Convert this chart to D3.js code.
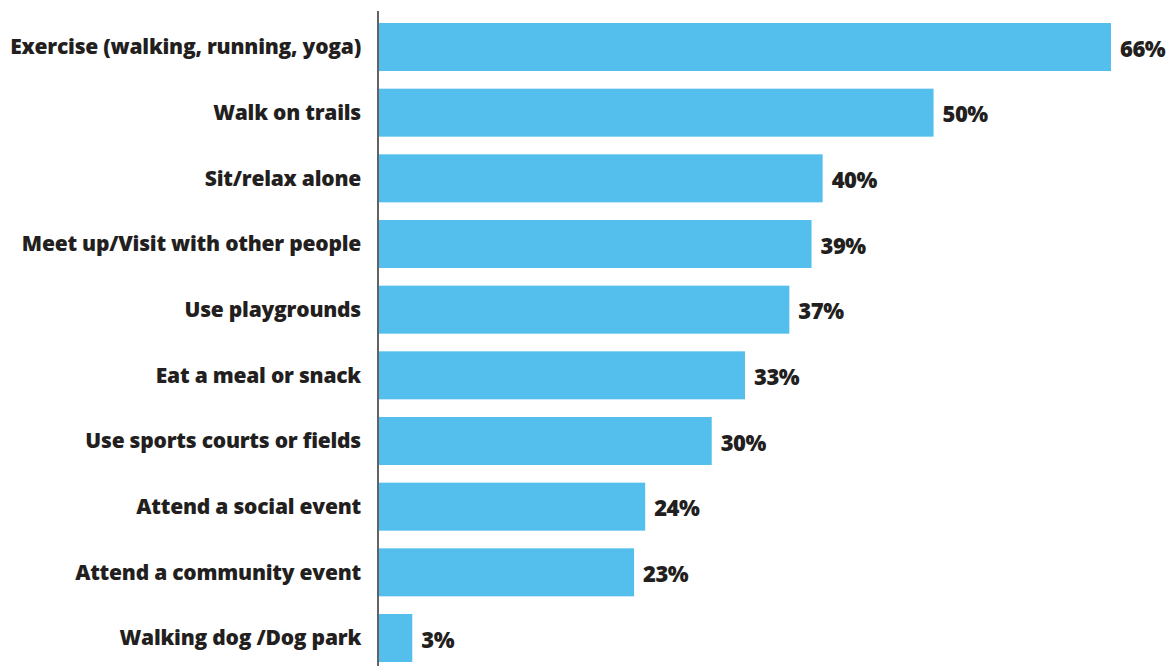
<!DOCTYPE html>
<html><head><meta charset="utf-8">
<script src="https://cdn.jsdelivr.net/npm/d3@7"></script>
<style>
html,body{margin:0;padding:0;background:#fff;}
svg{display:block;}
text{font-family:"Open Sans",sans-serif;font-weight:800;fill:#231f20;}
</style></head>
<body>
<svg id="chart" width="1167" height="666"></svg>
<script>
const categories = [
  "Exercise (walking, running, yoga)",
  "Walk on trails",
  "Sit/relax alone",
  "Meet up/Visit with other people",
  "Use playgrounds",
  "Eat a meal or snack",
  "Use sports courts or fields",
  "Attend a social event",
  "Attend a community event",
  "Walking dog /Dog park"
];
const values = [66, 50, 40, 39, 37, 33, 30, 24, 23, 3];
const valueLabels = ["66%", "50%", "40%", "39%", "37%", "33%", "30%", "24%", "23%", "3%"];

const svg = d3.select("#chart");
const x = d3.scaleLinear().domain([0, 66]).range([379, 1111]);
const y = d3.scaleBand().domain(categories).range([23, 662]).paddingInner(0.269).paddingOuter(0);

svg.append("g").selectAll("rect").data(categories).join("rect")
  .attr("x", x(0))
  .attr("y", d => y(d))
  .attr("width", (d, i) => x(values[i]) - x(0))
  .attr("height", y.bandwidth())
  .attr("fill", "#54bfed");

svg.append("line")
  .attr("x1", 378).attr("x2", 378)
  .attr("y1", 11).attr("y2", 666)
  .attr("stroke", "#231f20").attr("stroke-width", 1.4);

const catFs = 21;
const catText = svg.append("g").selectAll("text").data(categories).join("text")
  .attr("x", 361)
  .attr("y", d => y(d) + y.bandwidth() / 2)
  .attr("dy", "0.35em")
  .attr("text-anchor", "end")
  .style("font-size", catFs + "px")
  .text(d => d);

// tighten tracking so the longest label spans the reference width
const first = catText.nodes()[0];
const w0 = first.getComputedTextLength();
const ls = Math.max(-1.2, Math.min(0, (351 - w0) / (categories[0].length - 1)));
catText.style("letter-spacing", ls + "px");

svg.append("g").selectAll("text").data(categories).join("text")
  .attr("x", (d, i) => x(values[i]) + 9)
  .attr("y", d => y(d) + y.bandwidth() / 2 + 2)
  .attr("dy", "0.35em")
  .style("font-size", "22px")
  .style("letter-spacing", "-0.5px")
  .text((d, i) => valueLabels[i]);
</script>
</body></html>
